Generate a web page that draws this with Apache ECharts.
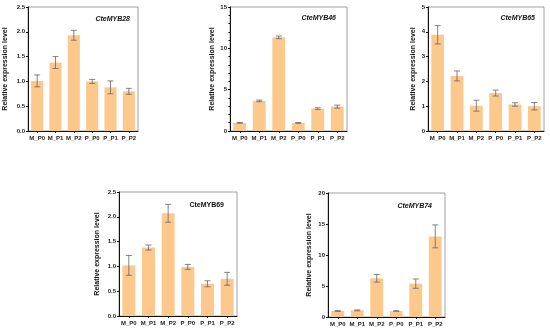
<!DOCTYPE html>
<html><head><meta charset="utf-8">
<script src="https://cdn.jsdelivr.net/npm/echarts@6/dist/echarts.min.js"></script>
<style>html,body{margin:0;padding:0;background:#fff}#c{width:550px;height:331px}</style>
</head><body><div id="c"></div>
<script>
const categories = ['M_P0','M_P1','M_P2','P_P0','P_P1','P_P2'];
const genes = ['CteMYB28','CteMYB46','CteMYB65','CteMYB69','CteMYB74'];
const means28 = [1.01, 1.38, 1.93, 1.00, 0.88, 0.80];
const err28   = [0.12, 0.12, 0.10, 0.04, 0.13, 0.06];
const means46 = [0.98, 3.64, 11.33, 0.98, 2.71, 2.95];
const err46   = [0.04, 0.10, 0.16, 0.05, 0.10, 0.18];
const means65 = [3.88, 2.22, 1.02, 1.53, 1.07, 1.00];
const err65   = [0.37, 0.20, 0.22, 0.12, 0.07, 0.15];
const means69 = [1.02, 1.38, 2.07, 0.99, 0.65, 0.75];
const err69   = [0.20, 0.05, 0.18, 0.05, 0.06, 0.13];
const means74 = [0.97, 1.07, 6.24, 0.97, 5.38, 13.0];
const err74   = [0.06, 0.07, 0.62, 0.04, 0.75, 1.85];
const yMax = [2.5, 15, 5, 2.5, 20];
const yInterval = [0.5, 5, 1, 0.5, 5];
const allMeans = [means28, means46, means65, means69, means74];
const allErr = [err28, err46, err65, err69, err74];

const grids = [
  {left:28, top:7, width:110, height:124},
  {left:230, top:7, width:117, height:124},
  {left:428, top:7, width:116, height:124},
  {left:119, top:192, width:118, height:124},
  {left:328, top:193, width:117, height:124}
];
const nameGaps = [19, 14, 11, 18, 15];
const titlePos = [{right:415, top:11},{right:209, top:10},{right:10, top:10},{right:321, top:197},{right:113, top:198}];
const decimals = [1,0,0,1,0];

const option = {
  animation:false,
  backgroundColor:'#fff',
  title: genes.map((g,i)=>({text:g, right:titlePos[i].right, top:titlePos[i].top,
    textStyle:{fontSize:7, fontWeight:'bold', fontStyle: i===3?'normal':'italic', color:'#111', fontFamily:'Liberation Sans'}})),
  grid: grids.map(g=>Object.assign({show:true, borderColor:'#888', borderWidth:0.8, backgroundColor:'transparent', containLabel:false}, g)),
  xAxis: grids.map((g,i)=>({type:'category', gridIndex:i, data:categories,
    axisLine:{lineStyle:{color:'#111', width:1}},
    axisTick:{show:true, alignWithLabel:true, length:2, lineStyle:{color:'#111'}},
    axisLabel:{fontSize:6, fontWeight:'bold', color:'#222', margin:4, interval:0, fontFamily:'Liberation Sans'}})),
  yAxis: grids.map((g,i)=>({type:'value', gridIndex:i, min:0, max:yMax[i], interval:yInterval[i],
    name:'Relative expression level', nameLocation:'middle', nameGap:nameGaps[i], nameRotate:90,
    nameTextStyle:{fontSize:7, fontWeight:'bold', color:'#111', fontFamily:'Liberation Sans'},
    axisLine:{show:true, lineStyle:{color:'#111', width:1}},
    axisTick:{show:true, length:2, lineStyle:{color:'#111'}},
    minorTick:{show: i===1, splitNumber:5, length:1.5, lineStyle:{color:'#111'}},
    splitLine:{show:false},
    axisLabel:{fontSize:6, fontWeight:'bold', color:'#222', margin:3, fontFamily:'Liberation Sans',
      formatter: v => v.toFixed(decimals[i])}})),
  series: []
};
allMeans.forEach((m,i)=>{
  option.series.push({type:'bar', xAxisIndex:i, yAxisIndex:i, data:m, barCategoryGap:'34%',
    itemStyle:{color:'#FDC88C'}, z:2});
  option.series.push({type:'custom', xAxisIndex:i, yAxisIndex:i, z:3,
    data: m.map((v,j)=>[j, v-allErr[i][j], v+allErr[i][j]]),
    renderItem:(params, api)=>{
      const lo = api.coord([api.value(0), api.value(1)]);
      const hi = api.coord([api.value(0), api.value(2)]);
      const hw = 3;
      const st = {stroke:'#666', lineWidth:0.8};
      return {type:'group', children:[
        {type:'line', shape:{x1:lo[0], y1:lo[1], x2:hi[0], y2:hi[1]}, style:st},
        {type:'line', shape:{x1:hi[0]-hw, y1:hi[1], x2:hi[0]+hw, y2:hi[1]}, style:st},
        {type:'line', shape:{x1:lo[0]-hw, y1:lo[1], x2:lo[0]+hw, y2:lo[1]}, style:st}
      ]};
    }});
});
echarts.init(document.getElementById('c'), null, {renderer:'canvas'}).setOption(option);
</script></body></html>
